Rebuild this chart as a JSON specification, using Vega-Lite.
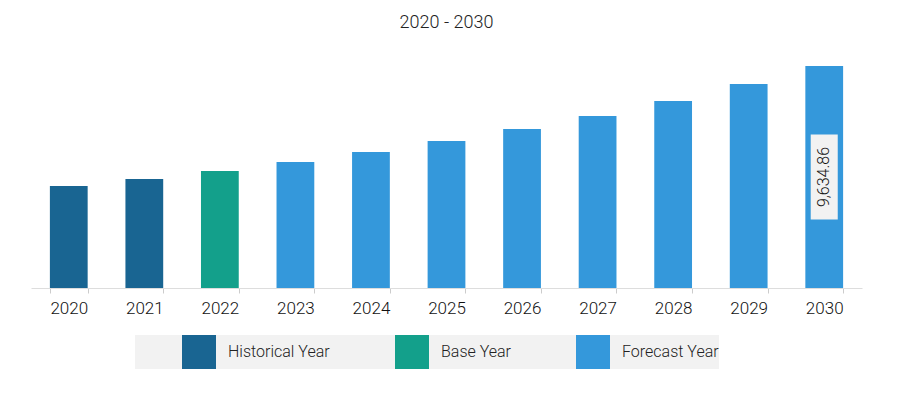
{
  "$schema": "https://vega.github.io/schema/vega-lite/v6.json",
  "width": 831,
  "height": 244,
  "autosize": {"type": "none"},
  "padding": {"left": 31, "top": 44, "right": 39, "bottom": 117},
  "background": "white",
  "title": {"text": "2020 - 2030", "fontSize": 18, "font": "Roboto", "fontWeight": 300, "color": "#222222", "offset": 12, "anchor": "middle"},
  "config": {"view": {"stroke": null}},
  "data": {"values": [
    {"year": "2020", "value": 4427, "type": "Historical Year"},
    {"year": "2021", "value": 4731, "type": "Historical Year"},
    {"year": "2022", "value": 5078, "type": "Base Year"},
    {"year": "2023", "value": 5469, "type": "Forecast Year"},
    {"year": "2024", "value": 5903, "type": "Forecast Year"},
    {"year": "2025", "value": 6380, "type": "Forecast Year"},
    {"year": "2026", "value": 6901, "type": "Forecast Year"},
    {"year": "2027", "value": 7465, "type": "Forecast Year"},
    {"year": "2028", "value": 8116, "type": "Forecast Year"},
    {"year": "2029", "value": 8854, "type": "Forecast Year"},
    {"year": "2030", "value": 9634.86, "type": "Forecast Year"}
  ]},
  "encoding": {
    "x": {"field": "year", "type": "ordinal",
      "scale": {"paddingInner": 0.5, "paddingOuter": 0.25},
      "axis": {"title": null, "labelAngle": 0, "domainColor": "#dddddd", "tickColor": "#cccccc", "tickSize": 5, "tickBand": "extent", "labelFontSize": 17, "labelFont": "Roboto", "labelFontWeight": 300, "labelColor": "#111111", "labelPadding": 7, "grid": false}},
    "y": {"field": "value", "type": "quantitative", "scale": {"domain": [0, 10590], "nice": false}, "axis": null}
  },
  "layer": [
    {
      "mark": {"type": "bar"},
      "encoding": {
        "color": {"field": "type", "type": "nominal",
          "scale": {"domain": ["Historical Year", "Base Year", "Forecast Year"], "range": ["#196592", "#13a08b", "#3498db"]},
          "legend": {"title": null, "orient": "none", "legendX": 104, "legendY": 291, "direction": "horizontal", "fillColor": "#f2f2f2", "padding": 0, "symbolType": "square", "symbolSize": 1156, "symbolStrokeWidth": 0, "symbolOpacity": 1, "symbolOffset": 47, "labelFontSize": 16, "labelFont": "Roboto", "labelFontWeight": 300, "labelColor": "#222222", "labelOffset": 12, "columnPadding": 18, "labelLimit": 300,
            "labelExpr": "datum.label == 'Forecast Year' ? datum.label + '\u00a0\u00a0\u00a0\u00a0\u00a0\u00a0\u00a0\u00a0' : datum.label"}}
      }
    },
    {
      "transform": [{"filter": "datum.year == '2030'"}, {"calculate": "datum.value / 2", "as": "mid"}],
      "mark": {"type": "point", "shape": "M-0.318,-1H0.318V1H-0.318Z", "filled": true, "color": "#f2f2f2", "opacity": 1, "size": 7225},
      "encoding": {"y": {"field": "mid", "type": "quantitative"}}
    },
    {
      "transform": [{"filter": "datum.year == '2030'"}, {"calculate": "datum.value / 2", "as": "mid"}],
      "mark": {"type": "text", "angle": 270, "font": "Roboto", "fontSize": 16, "fontWeight": 300, "color": "#111111", "align": "center", "baseline": "middle"},
      "encoding": {"y": {"field": "mid", "type": "quantitative"}, "text": {"field": "value", "type": "quantitative", "format": ",.2f"}}
    }
  ]
}
